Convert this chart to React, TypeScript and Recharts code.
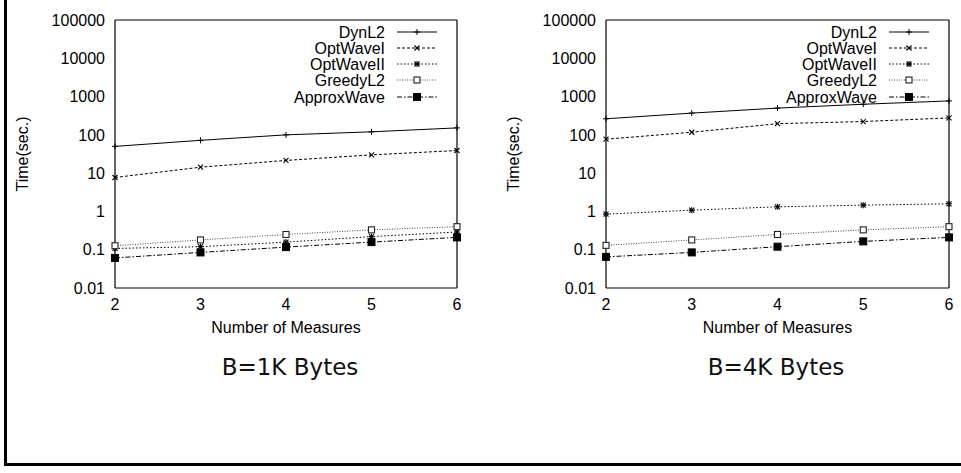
import React from 'react';
import { LineChart, Line, XAxis, YAxis, Legend } from 'recharts';

// ---- data ----
const measures = [2, 3, 4, 5, 6];
const seriesNames = ['DynL2', 'OptWaveI', 'OptWaveII', 'GreedyL2', 'ApproxWave'];

const dynL2_1K = [50, 72, 100, 120, 152];
const optWaveI_1K = [7.7, 14.3, 21.5, 30, 39];
const optWaveII_1K = [0.108, 0.12, 0.158, 0.22, 0.29];
const greedyL2_1K = [0.127, 0.18, 0.25, 0.33, 0.4];
const approxWave_1K = [0.061, 0.085, 0.117, 0.158, 0.21];

const dynL2_4K = [263, 370, 500, 630, 770];
const optWaveI_4K = [77, 117, 196, 223, 277];
const optWaveII_4K = [0.85, 1.08, 1.32, 1.46, 1.58];
const greedyL2_4K = [0.13, 0.18, 0.25, 0.33, 0.4];
const approxWave_4K = [0.065, 0.085, 0.12, 0.165, 0.21];

const xTicks = [2, 3, 4, 5, 6];
const yMajorTicks = [0.01, 0.1, 1, 10, 100, 1000, 10000, 100000];
const yTickLabels = ['0.01', '0.1', '1', '10', '100', '1000', '10000', '100000'];
const yMinorTicks = [0.02, 0.05, 0.2, 0.5, 2, 5, 20, 50, 200, 500, 2000, 5000, 20000, 50000];
const panelTitles = ['B=1K Bytes', 'B=4K Bytes'];
const xAxisTitle = 'Number of Measures';
const yAxisTitle = 'Time(sec.)';

// ---- styles ----
const FONT = '"Liberation Sans", Arial, Helvetica, sans-serif';
const seriesStyle: Record<string, { dash?: string; marker: string; color: string }> = {
  DynL2: { dash: undefined, marker: 'plus', color: '#000' },
  OptWaveI: { dash: '3 2', marker: 'cross', color: '#000' },
  OptWaveII: { dash: '1.5 2', marker: 'star', color: '#000' },
  GreedyL2: { dash: '1 1.5', marker: 'openSquare', color: '#444' },
  ApproxWave: { dash: '5 2 1.5 2', marker: 'filledSquare', color: '#000' },
};

function buildData(cols: number[][]) {
  return measures.map((m, i) => {
    const row: Record<string, number> = { x: m };
    seriesNames.forEach((n, k) => {
      row[n] = cols[k][i];
    });
    return row;
  });
}

const data1K = buildData([dynL2_1K, optWaveI_1K, optWaveII_1K, greedyL2_1K, approxWave_1K]);
const data4K = buildData([dynL2_4K, optWaveI_4K, optWaveII_4K, greedyL2_4K, approxWave_4K]);

function Marker({ shape, cx, cy }: { shape: string; cx: number; cy: number }) {
  if (cx == null || cy == null || isNaN(cx) || isNaN(cy)) return <g />;
  const s = 3;
  switch (shape) {
    case 'plus':
      return (
        <g stroke="#000" strokeWidth={1}>
          <line x1={cx - s} x2={cx + s} y1={cy} y2={cy} />
          <line x1={cx} x2={cx} y1={cy - s} y2={cy + s} />
        </g>
      );
    case 'cross':
      return (
        <g stroke="#000" strokeWidth={1.1}>
          <line x1={cx - 2.5} x2={cx + 2.5} y1={cy - 2.5} y2={cy + 2.5} />
          <line x1={cx - 2.5} x2={cx + 2.5} y1={cy + 2.5} y2={cy - 2.5} />
        </g>
      );
    case 'star':
      return (
        <g stroke="#000" strokeWidth={1.1}>
          <line x1={cx - 2.5} x2={cx + 2.5} y1={cy - 2.5} y2={cy + 2.5} />
          <line x1={cx - 2.5} x2={cx + 2.5} y1={cy + 2.5} y2={cy - 2.5} />
          <line x1={cx - 3} x2={cx + 3} y1={cy} y2={cy} />
          <line x1={cx} x2={cx} y1={cy - 3} y2={cy + 3} />
        </g>
      );
    case 'openSquare':
      return <rect x={cx - 3} y={cy - 3} width={6} height={6} fill="#fff" stroke="#222" strokeWidth={1.1} />;
    case 'filledSquare':
      return <rect x={cx - 3.5} y={cy - 3.5} width={7} height={7} fill="#000" stroke="#000" />;
    default:
      return <g />;
  }
}

function LegendBox() {
  return (
    <svg width={200} height={92} style={{ overflow: 'visible', display: 'block' }}>
      {seriesNames.map((n, i) => {
        const st = seriesStyle[n];
        const cy = 10 + i * 16 + (i === 4 ? 1 : 0);
        return (
          <g key={n}>
            <text x={128} y={cy + 5.5} textAnchor="end" fontFamily={FONT} fontSize={16} fill="#000">
              {n}
            </text>
            <line x1={140} x2={180} y1={cy} y2={cy} stroke={st.color} strokeWidth={1} strokeDasharray={st.dash} />
            <Marker shape={st.marker} cx={160} cy={cy} />
          </g>
        );
      })}
    </svg>
  );
}

type PanelProps = {
  left: number;
  width: number;
  yAxisWidth: number;
  marginRight: number;
  data: Record<string, number>[];
  title: string;
};

const HEIGHT = 340;
const TOP = 20;
const XAXIS_H = 45;
const MARGIN_BOTTOM = 7;

function Panel({ left, width, yAxisWidth, marginRight, data, title }: PanelProps) {
  const plotRight = width - marginRight;
  const logProps = {
    type: 'number' as const,
    scale: 'log' as const,
    domain: [0.01, 100000],
    allowDataOverflow: true,
    interval: 0 as const,
  };
  return (
    <div style={{ position: 'absolute', left, top: 0, width, height: 400 }}>
      <LineChart
        width={width}
        height={HEIGHT}
        data={data}
        margin={{ top: TOP, right: marginRight, bottom: MARGIN_BOTTOM, left: 0 }}
      >
        <XAxis
          xAxisId="main"
          dataKey="x"
          type="number"
          domain={[2, 6]}
          ticks={xTicks}
          interval={0}
          height={XAXIS_H}
          tickLine={false}
          tickSize={6}
          tickMargin={5}
          axisLine={{ stroke: '#000', strokeWidth: 1.2 }}
          tick={{ fill: '#000', fontSize: 16, fontFamily: FONT }}
          label={(p: any) => {
            const vb = p.viewBox || {};
            return (
              <text
                x={vb.x + vb.width / 2}
                y={vb.y + 45}
                textAnchor="middle"
                fontFamily={FONT}
                fontSize={16}
                fill="#000"
              >
                {xAxisTitle}
              </text>
            );
          }}
        />
        <XAxis
          xAxisId="bottomTicks"
          dataKey="x"
          type="number"
          domain={[2, 6]}
          ticks={xTicks}
          interval={0}
          orientation="bottom"
          mirror
          tick={false}
          axisLine={false}
          tickSize={5}
          tickLine={{ stroke: '#000' }}
        />
        <XAxis
          xAxisId="top"
          dataKey="x"
          type="number"
          domain={[2, 6]}
          ticks={xTicks}
          interval={0}
          orientation="top"
          mirror
          tick={false}
          axisLine={{ stroke: '#000', strokeWidth: 1.2 }}
          tickSize={5}
          tickLine={{ stroke: '#000' }}
        />
        <YAxis
          yAxisId="main"
          {...logProps}
          ticks={yMajorTicks}
          width={yAxisWidth}
          tickLine={false}
          tickSize={6}
          tickMargin={4}
          axisLine={{ stroke: '#000', strokeWidth: 1.2 }}
          tick={{ fill: '#000', fontSize: 16, fontFamily: FONT }}
          tickFormatter={(v: number) => {
            const idx = yMajorTicks.indexOf(v);
            return idx >= 0 ? yTickLabels[idx] : String(v);
          }}
          label={(p: any) => {
            const vb = p.viewBox || {};
            const cx = vb.x + vb.width - 93;
            const cy = vb.y + vb.height / 2;
            return (
              <text
                x={cx}
                y={cy}
                transform={`rotate(-90, ${cx}, ${cy})`}
                textAnchor="middle"
                dominantBaseline="central"
                fontFamily={FONT}
                fontSize={16}
                fill="#000"
              >
                {yAxisTitle}
              </text>
            );
          }}
        />
        <YAxis
          yAxisId="leftMajor"
          {...logProps}
          ticks={yMajorTicks}
          orientation="left"
          mirror
          tick={false}
          axisLine={false}
          tickSize={5}
          tickLine={{ stroke: '#000' }}
        />
        <YAxis
          yAxisId="leftMinor"
          {...logProps}
          ticks={yMinorTicks}
          orientation="left"
          mirror
          tick={false}
          axisLine={false}
          tickSize={3}
          tickLine={{ stroke: '#000' }}
        />
        <YAxis
          yAxisId="rightMajor"
          {...logProps}
          ticks={yMajorTicks}
          orientation="right"
          mirror
          tick={false}
          axisLine={{ stroke: '#000', strokeWidth: 1.2 }}
          tickSize={5}
          tickLine={{ stroke: '#000' }}
        />
        <YAxis
          yAxisId="rightMinor"
          {...logProps}
          ticks={yMinorTicks}
          orientation="right"
          mirror
          tick={false}
          axisLine={false}
          tickSize={3}
          tickLine={{ stroke: '#000' }}
        />
        <Legend
          layout="vertical"
          align="center"
          verticalAlign="middle"
          content={() => <LegendBox />}
          wrapperStyle={{ position: 'absolute', left: plotRight - 200, top: 22, width: 200, height: 92 }}
        />
        {seriesNames.map((n) => {
          const st = seriesStyle[n];
          return (
            <Line
              key={n}
              xAxisId="main"
              yAxisId="main"
              dataKey={n}
              name={n}
              type="linear"
              stroke={st.color}
              strokeWidth={1}
              strokeDasharray={st.dash}
              isAnimationActive={false}
              dot={(p: any) => <Marker key={`${n}-${p.index}`} shape={st.marker} cx={p.cx} cy={p.cy} />}
              activeDot={false}
            />
          );
        })}
      </LineChart>
      <div
        style={{
          position: 'absolute',
          left: 0,
          width: '100%',
          top: 0,
          height: 0,
        }}
      />
    </div>
  );
}

function Title({ text, cx }: { text: string; cx: number }) {
  return (
    <svg
      width={300}
      height={40}
      style={{ position: 'absolute', left: cx - 150, top: 345, overflow: 'visible' }}
    >
      <text x={150} y={30} textAnchor="middle" fontFamily='"DejaVu Sans", Verdana, sans-serif' fontSize={23} fill="#111">
        {text}
      </text>
    </svg>
  );
}

export default function App() {
  return (
    <div
      style={{
        position: 'absolute',
        left: 0,
        top: 0,
        width: 961,
        height: 473,
        overflow: 'hidden',
        background: '#fff',
      }}
    >
      <Panel left={0} width={480} yAxisWidth={115} marginRight={23} data={data1K} title={panelTitles[0]} />
      <Panel left={480} width={481} yAxisWidth={126} marginRight={12} data={data4K} title={panelTitles[1]} />
      <Title text={panelTitles[0]} cx={290} />
      <Title text={panelTitles[1]} cx={776} />
      <div
        style={{
          position: 'absolute',
          left: 4,
          top: -5,
          width: 980,
          height: 471,
          boxSizing: 'border-box',
          borderLeft: '3px solid #000',
          borderBottom: '3px solid #000',
          pointerEvents: 'none',
        }}
      />
    </div>
  );
}
